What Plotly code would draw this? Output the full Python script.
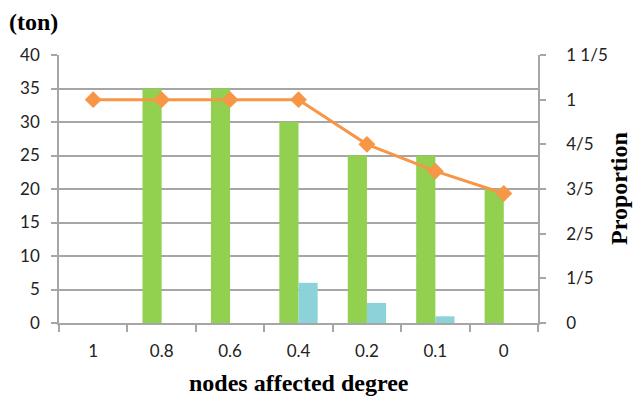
import plotly.graph_objects as go

categories = ["1", "0.8", "0.6", "0.4", "0.2", "0.1", "0"]
green_vals = [0, 35, 35, 30, 25, 25, 20]
cyan_vals = [0, 0, 0, 6, 3, 1, 0]
proportion = [1.0, 1.0, 1.0, 1.0, 0.8, 0.68, 0.58]
y2_tickvals = [0, 0.2, 0.4, 0.6, 0.8, 1.0, 1.2]
y2_ticktext = ["0", "1/5", "2/5", "3/5", "4/5", "1", "1 1/5"]

GREEN = "#92D050"
CYAN = "#8ED2D9"
ORANGE = "#F79646"
GRID = "#A6A6A6"
TICKFONT = dict(family="Lato, Open Sans, sans-serif", size=17, color="#222222")
TITLEFONT = dict(family="Liberation Serif, serif", size=24, color="#000000")

fig = go.Figure()
fig.add_trace(go.Bar(x=categories, y=green_vals, marker=dict(color=GREEN, line=dict(width=0)), showlegend=False))
fig.add_trace(go.Bar(x=categories, y=cyan_vals, marker=dict(color=CYAN, line=dict(width=0)), showlegend=False))
fig.add_trace(go.Scatter(x=categories, y=proportion, yaxis="y2", mode="lines+markers",
                         line=dict(color=ORANGE, width=3),
                         marker=dict(symbol="diamond", size=13, color=ORANGE),
                         showlegend=False))

W, H = 633, 399
l, r, t, b = 59, 95, 55, 76
pw, ph = W - l - r, H - t - b
def px(xp):
    return (xp - l) / pw
def py(yp):
    return (H - b - yp) / ph

fig.update_layout(
    width=W, height=H,
    margin=dict(l=l, r=r, t=t, b=b),
    paper_bgcolor="white", plot_bgcolor="white",
    barmode="group", bargap=0.44, bargroupgap=0,
    xaxis=dict(type="category", showline=True, linecolor=GRID, linewidth=1.5,
               ticks="outside", tickson="boundaries", ticklen=7, tickcolor=GRID, tickwidth=1.5,
               tickfont=TICKFONT, showgrid=False, ticklabelstandoff=12),
    yaxis=dict(range=[0, 40], tickvals=[0, 5, 10, 15, 20, 25, 30, 35, 40],
               showline=True, linecolor=GRID, linewidth=1.5,
               ticks="outside", ticklen=6, tickcolor=GRID, tickwidth=1.5,
               showgrid=True, gridcolor=GRID, gridwidth=1.5, zeroline=False,
               tickfont=TICKFONT, ticklabelstandoff=8),
    yaxis2=dict(range=[0, 1.2], tickvals=y2_tickvals, ticktext=y2_ticktext,
                overlaying="y", side="right", showline=True, linecolor=GRID, linewidth=1.5,
                ticks="outside", ticklen=6, tickcolor=GRID, tickwidth=1.5,
                showgrid=False, zeroline=False, tickfont=TICKFONT, ticklabelstandoff=17),
    annotations=[
        dict(text="<b>(ton)</b>", x=px(7), y=py(22), xref="paper", yref="paper", showarrow=False,
             font=TITLEFONT, xanchor="left", yanchor="middle"),
        dict(text="<b>nodes affected degree</b>", x=px(299), y=py(383), xref="paper", yref="paper",
             showarrow=False, font=TITLEFONT, xanchor="center", yanchor="middle"),
        dict(text="<b>Proportion</b>", x=px(619), y=py(189), xref="paper", yref="paper",
             showarrow=False, font=TITLEFONT, textangle=-90, xanchor="center", yanchor="middle"),
    ],
)

fig.write_html("out.html")
